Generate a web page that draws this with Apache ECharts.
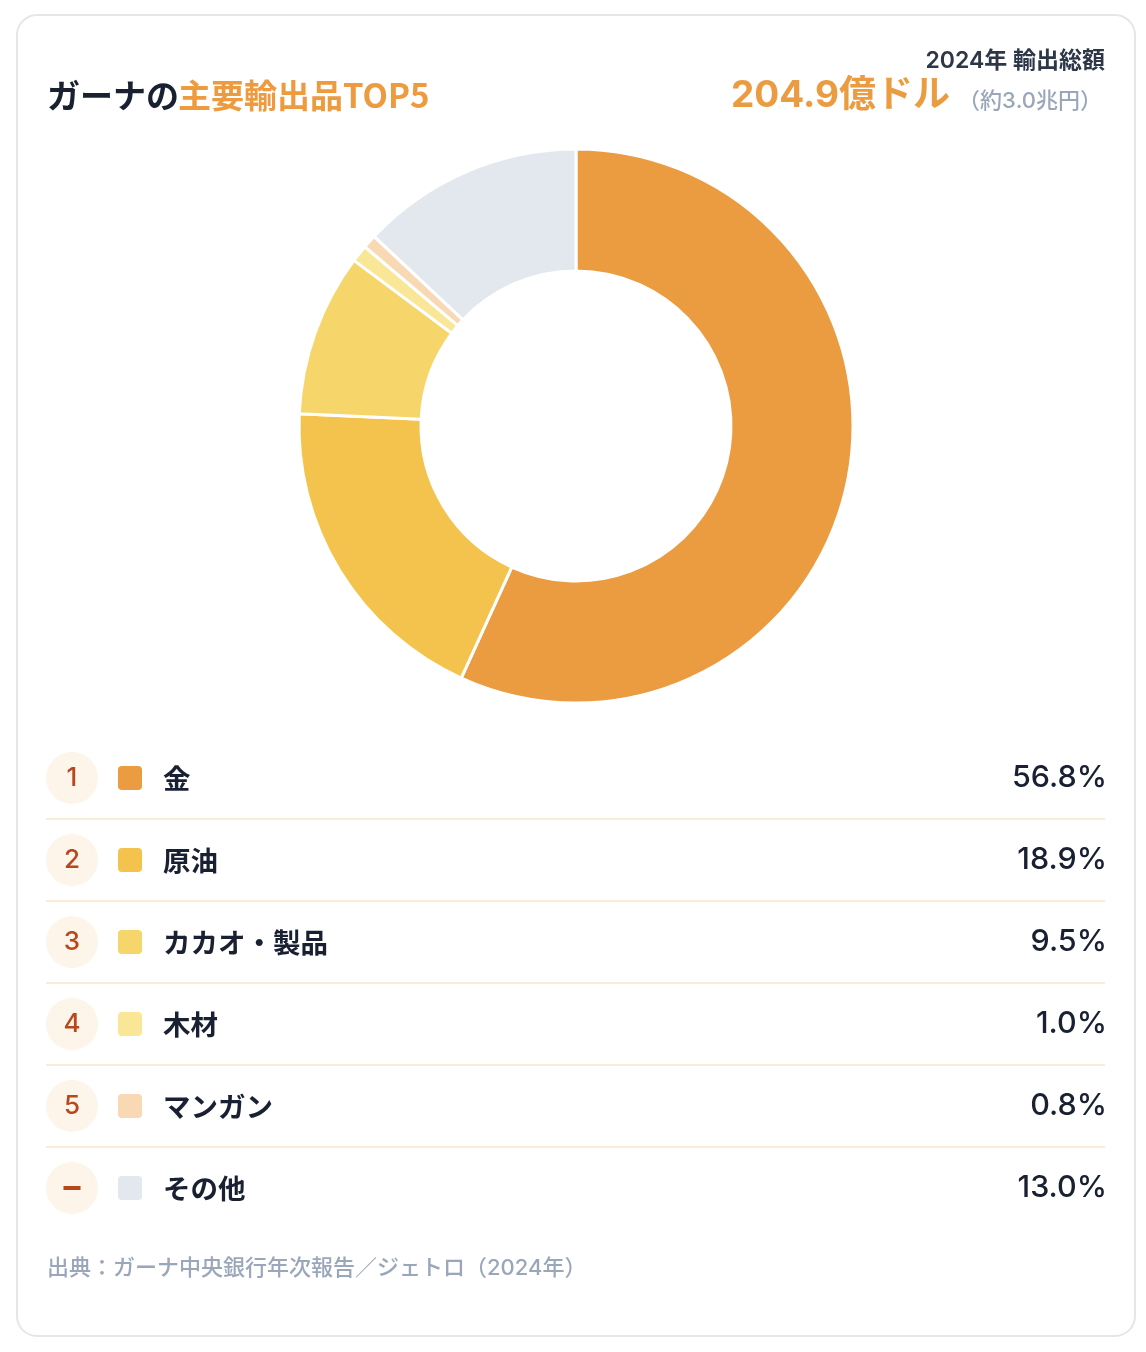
<!DOCTYPE html>
<html lang="ja">
<head>
<meta charset="UTF-8">
<title>ガーナの主要輸出品TOP5</title>
<style>
  html, body { margin: 0; padding: 0; background: #ffffff; }
  #chart { width: 1146px; height: 1352px; }
</style>
</head>
<body>
<div id="chart"></div>
<script src="https://cdn.jsdelivr.net/npm/echarts@6/dist/echarts.min.js"></script>
<script>
// data
var items = ['金', '原油', 'カカオ・製品', '木材', 'マンガン', 'その他'];
var shares = [56.8, 18.9, 9.5, 1.0, 0.8, 13.0];
var ranks = ['1', '2', '3', '4', '5', '–'];
var colors = ['#eb9b40', '#f3c34d', '#f6d56a', '#f9e797', '#f9d9b3', '#e3e8ef'];

var totalLabel = '2024年 輸出総額';
var totalValue = '204.9億ドル';
var totalYen = '（約3.0兆円）';
var sourceText = '出典：ガーナ中央銀行年次報告／ジェトロ（2024年）';

var FONT = 'Inter, "Noto Sans CJK JP", "Noto Sans", sans-serif';
var JP = '"Noto Sans CJK JP", Inter, sans-serif';

var chart = echarts.init(document.getElementById('chart'));

var graphics = [
  {
    type: 'rect', z: -10,
    shape: { x: 17, y: 15, width: 1118, height: 1321, r: 20 },
    style: { fill: '#ffffff', stroke: '#e4e6ea', lineWidth: 2 }
  },
  {
    type: 'text',
    style: { text: 'ガーナの', x: 47, y: 95, verticalAlign: 'middle',
      fontSize: 33, fontWeight: 'bold', fontFamily: JP, fill: '#182032' }
  },
  {
    type: 'text',
    style: { text: '主要輸出品TOP5', x: 178, y: 95, verticalAlign: 'middle',
      fontSize: 33, fontWeight: 'bold', fontFamily: JP, fill: '#ee9b40' }
  },
  {
    type: 'text',
    style: { text: totalLabel, x: 1105, y: 61, align: 'right', verticalAlign: 'middle',
      fontSize: 23, fontWeight: 600, fontFamily: FONT, fill: '#2d3748' }
  },
  {
    type: 'text',
    style: { text: totalValue, x: 950, y: 96, align: 'right', verticalAlign: 'middle',
      fontSize: 37, fontWeight: 'bold', fontFamily: FONT, fill: '#eb9b40' }
  },
  {
    type: 'text',
    style: { text: totalYen, x: 1102, y: 101, align: 'right', verticalAlign: 'middle',
      fontSize: 22, fontWeight: 500, fontFamily: FONT, fill: '#9aa6ba' }
  },
  {
    type: 'text',
    style: { text: sourceText, x: 47, y: 1268, verticalAlign: 'middle',
      fontSize: 22, fontWeight: 500, fontFamily: FONT, fill: '#9aa6ba' }
  }
];

items.forEach(function (name, i) {
  var cy = 778 + i * 82;
  var isNum = /\d/.test(ranks[i]);
  graphics.push({
    type: 'circle',
    shape: { cx: 72, cy: cy, r: 26 },
    style: { fill: '#fdf5ea' }
  });
  graphics.push({
    type: 'text',
    style: { text: ranks[i], x: 72, y: cy, align: 'center', verticalAlign: 'middle',
      fontSize: isNum ? 26 : 34, fontWeight: isNum ? 500 : 'bold', fontFamily: FONT, fill: '#b8471d' }
  });
  graphics.push({
    type: 'rect',
    shape: { x: 118, y: cy - 12, width: 24, height: 24, r: 4 },
    style: { fill: colors[i] }
  });
  graphics.push({
    type: 'text',
    style: { text: name, x: 163, y: cy + 1, verticalAlign: 'middle',
      fontSize: 27.5, fontWeight: 600, fontFamily: JP, fill: '#182032' }
  });
  graphics.push({
    type: 'text',
    style: { text: shares[i].toFixed(1) + '%', x: 1107, y: cy, align: 'right', verticalAlign: 'middle',
      fontSize: 30.5, fontWeight: 500, fontFamily: FONT, fill: '#182032' }
  });
  if (i < items.length - 1) {
    graphics.push({
      type: 'line',
      shape: { x1: 46, y1: cy + 41, x2: 1105, y2: cy + 41 },
      style: { stroke: '#fbecd9', lineWidth: 2 }
    });
  }
});

var option = {
  backgroundColor: '#ffffff',
  animation: false,
  graphic: graphics,
  series: [{
    type: 'pie',
    center: [576, 426],
    radius: [155, 277],
    startAngle: 90,
    clockwise: true,
    silent: true,
    label: { show: false },
    labelLine: { show: false },
    itemStyle: { borderColor: '#ffffff', borderWidth: 3 },
    data: items.map(function (name, i) {
      return { name: name, value: shares[i], itemStyle: { color: colors[i] } };
    })
  }]
};

chart.setOption(option);
</script>
</body>
</html>
